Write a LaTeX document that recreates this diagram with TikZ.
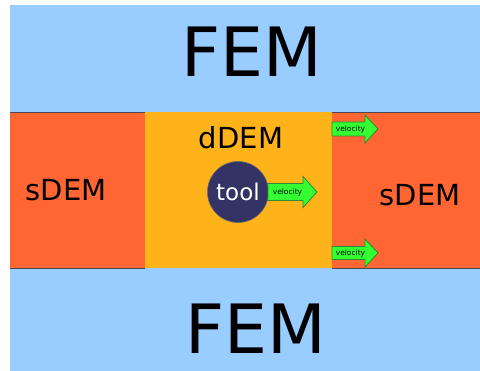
\documentclass[tikz,border=0pt]{standalone}
\usepackage{fontspec}
\setmainfont{DejaVu Sans}
\definecolor{femblue}{HTML}{99CCFF}
\definecolor{sdemred}{HTML}{FF6633}
\definecolor{ddemyel}{HTML}{FFB31A}
\definecolor{toolnavy}{HTML}{333366}
\definecolor{velgreen}{HTML}{33FF33}
\definecolor{veledge}{HTML}{2E8B2E}
\newcommand\velarrow[7]{% name, x0, yc, L, half body, half head, head length
  \filldraw[fill=velgreen,draw=veledge,line width=0.8pt,line join=miter]
    (#2,{#3-#5}) -- ({#2+#4-#7},{#3-#5}) -- ({#2+#4-#7},{#3-#6}) -- ({#2+#4},#3)
    -- ({#2+#4-#7},{#3+#6}) -- ({#2+#4-#7},{#3+#5}) -- (#2,{#3+#5}) -- cycle;
  \node[veltext] (#1) at ({#2+(#4-#7)/2+2},#3) {velocity};
}
\tikzset{
  bandline/.style={draw=black!70,line width=0.9pt},
  bigtxt/.style={font=\fontsize{68}{68}\selectfont, text=black, inner sep=0pt},
  midtxt/.style={font=\fontsize{29}{29}\selectfont, text=black, inner sep=0pt},
  veltext/.style={font=\fontsize{7.5}{7.5}\selectfont, text=black, inner sep=0pt},
}
\begin{document}
\begin{tikzpicture}[x=1pt,y=-1pt]
\useasboundingbox (0,0) rectangle (480,371);
\fill[white] (0,0) rectangle (480,371);
\fill[femblue] (10,5) rectangle (480,371);
% band
\fill[sdemred] (10,112) rectangle (145,268);
\fill[sdemred] (332,112) rectangle (480,268);
\fill[ddemyel] (145,112) rectangle (332,268);
\draw[bandline] (10,112) -- (145,112) (332,112) -- (480,112);
\draw[bandline] (10,268) -- (145,268) (332,268) -- (480,268);
% texts
\node[bigtxt] (femtop) at (252,52) {FEM};
\node[bigtxt] (fembot) at (256,329) {FEM};
\node[midtxt] (sdemL) at (66,190) {sDEM};
\node[midtxt] (sdemR) at (420,195) {sDEM};
\node[midtxt] (ddem) at (241,138) {dDEM};
% tool
\node[circle, fill=toolnavy, draw=black!60, line width=0.6pt, minimum size=61pt, inner sep=0pt,
      text=white, font=\fontsize{23}{23}\selectfont] (tool) at (238,192) {tool};
% velocity arrows
\velarrow{vtool}{268}{192}{49}{8.5}{15.5}{14}
\velarrow{vtop}{332}{129}{46}{7}{14}{13}
\velarrow{vbot}{332}{253}{46}{6.5}{14}{13}
\end{tikzpicture}
\end{document}
